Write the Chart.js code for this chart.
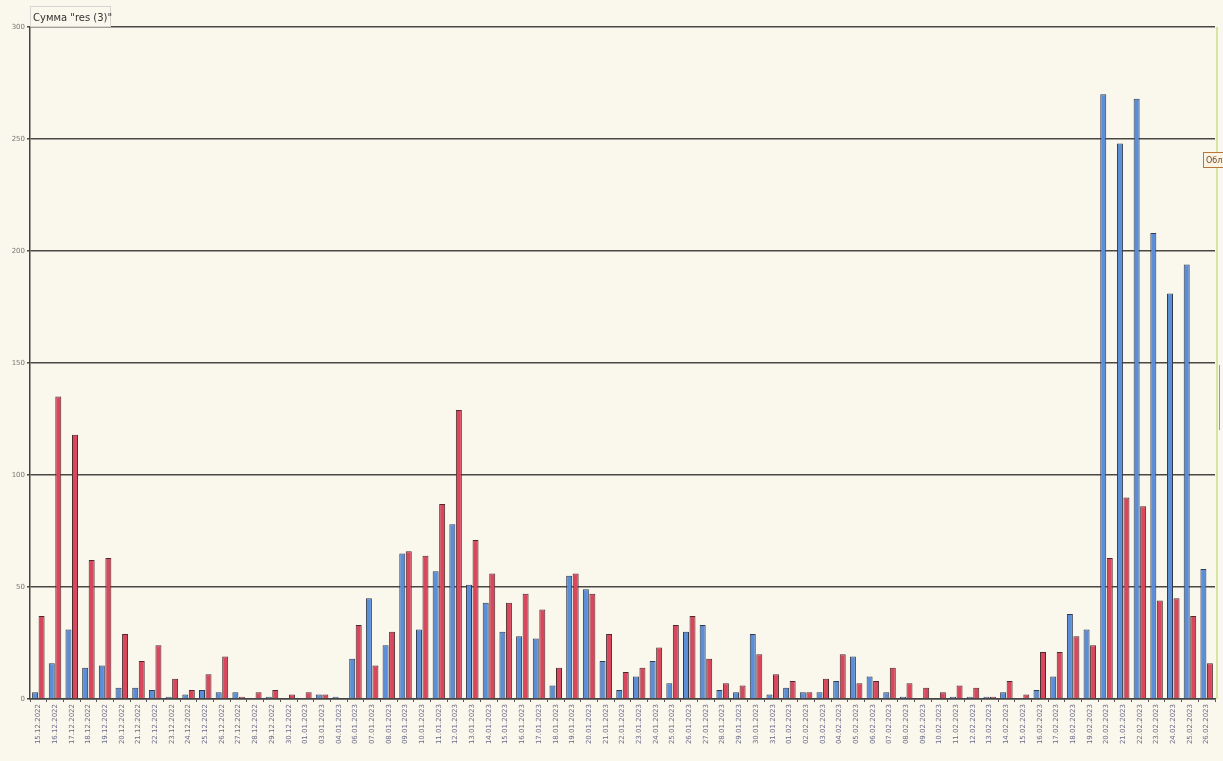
<!DOCTYPE html>
<html lang="ru">
<head>
    <meta charset="UTF-8">
    <title>Сумма "res (3)"</title>
    <script src="https://cdn.jsdelivr.net/npm/chart.js"></script>
    <style>
        html, body {
            margin: 0;
            padding: 0;
            background: #faf7ec;
        }
        #wrap {
            position: relative;
            width: 1223px;
            height: 761px;
        }
    </style>
</head>
<body>
    <div id="wrap"><canvas id="resChart" width="1223" height="761"></canvas></div>

    <script>
        const dates = [
            "15.12.2022", "16.12.2022", "17.12.2022", "18.12.2022", "19.12.2022", "20.12.2022",
            "21.12.2022", "22.12.2022", "23.12.2022", "24.12.2022", "25.12.2022", "26.12.2022",
            "27.12.2022", "28.12.2022", "29.12.2022", "30.12.2022", "01.01.2023", "03.01.2023",
            "04.01.2023", "06.01.2023", "07.01.2023", "08.01.2023", "09.01.2023", "10.01.2023",
            "11.01.2023", "12.01.2023", "13.01.2023", "14.01.2023", "15.01.2023", "16.01.2023",
            "17.01.2023", "18.01.2023", "19.01.2023", "20.01.2023", "21.01.2023", "22.01.2023",
            "23.01.2023", "24.01.2023", "25.01.2023", "26.01.2023", "27.01.2023", "28.01.2023",
            "29.01.2023", "30.01.2023", "31.01.2023", "01.02.2023", "02.02.2023", "03.02.2023",
            "04.02.2023", "05.02.2023", "06.02.2023", "07.02.2023", "08.02.2023", "09.02.2023",
            "10.02.2023", "11.02.2023", "12.02.2023", "13.02.2023", "14.02.2023", "15.02.2023",
            "16.02.2023", "17.02.2023", "18.02.2023", "19.02.2023", "20.02.2023", "21.02.2023",
            "22.02.2023", "23.02.2023", "24.02.2023", "25.02.2023", "26.02.2023"
        ];

        const blueValues = [
            3, 16, 31, 14, 15, 5, 5, 4, 1, 2, 4, 3,
            3, 0, 1, 0, 0, 2, 1, 18, 45, 24, 65, 31,
            57, 78, 51, 43, 30, 28, 27, 6, 55, 49, 17, 4,
            10, 17, 7, 30, 33, 4, 3, 29, 2, 5, 3, 3,
            8, 19, 10, 3, 1, 0, 0, 1, 1, 1, 3, 0,
            4, 10, 38, 31, 270, 248, 268, 208, 181, 194, 58
        ];

        const redValues = [
            37, 135, 118, 62, 63, 29, 17, 24, 9, 4, 11, 19,
            1, 3, 4, 2, 3, 2, 0, 33, 15, 30, 66, 64,
            87, 129, 71, 56, 43, 47, 40, 14, 56, 47, 29, 12,
            14, 23, 33, 37, 18, 7, 6, 20, 11, 8, 3, 9,
            20, 7, 8, 14, 7, 5, 3, 6, 5, 1, 8, 2,
            21, 21, 28, 24, 63, 90, 86, 44, 45, 37, 16
        ];

        const yTicks = [0, 50, 100, 150, 200, 250, 300];

        // рамки, заголовок и ярлык справа
        const decor = {
            id: "decor",
            beforeDraw(chart) {
                const c = chart.ctx;
                c.save();
                c.fillStyle = "#faf7ec";
                c.fillRect(0, 0, chart.width, chart.height);
                c.restore();
            },
            afterDraw(chart) {
                const c = chart.ctx;
                const a = chart.chartArea;
                c.save();
                // зелёная граница справа
                c.strokeStyle = "#c8e08a";
                c.lineWidth = 1.5;
                c.beginPath();
                c.moveTo(a.right + 2, a.top);
                c.lineTo(a.right + 2, a.bottom);
                c.stroke();
                // заголовок
                c.strokeStyle = "#d8d6d0";
                c.lineWidth = 1;
                c.strokeRect(30.5, 6.5, 80, 20);
                c.fillStyle = "#333";
                c.font = "10px 'DejaVu Sans', sans-serif";
                c.textBaseline = "alphabetic";
                c.fillText("Сумма \"res (3)\"", 33, 21);
                // ярлык "Обл"
                c.fillStyle = "#fdf3e2";
                c.fillRect(1203, 152, 20, 16);
                c.strokeStyle = "#b8763a";
                c.strokeRect(1203.5, 152.5, 22, 15);
                c.fillStyle = "#6b4a2a";
                c.font = "8px 'DejaVu Sans', sans-serif";
                c.fillText("Обл", 1206, 163);
                // серый элемент справа
                c.strokeStyle = "#9a9a9a";
                c.beginPath();
                c.moveTo(1219.5, 365);
                c.lineTo(1219.5, 430);
                c.stroke();
                c.restore();
            }
        };

        new Chart(document.getElementById("resChart"), {
            type: "bar",
            data: {
                labels: dates,
                datasets: [{
                    label: "blue",
                    data: blueValues,
                    backgroundColor: "#5b8ed6",
                    borderColor: "#2f3a4e",
                    borderWidth: 1,
                    categoryPercentage: 0.78,
                    barPercentage: 0.92
                }, {
                    label: "red",
                    data: redValues,
                    backgroundColor: "#d8475c",
                    borderColor: "#4e2a30",
                    borderWidth: 1,
                    categoryPercentage: 0.78,
                    barPercentage: 0.92
                }]
            },
            options: {
                responsive: false,
                animation: false,
                layout: { padding: { top: 27, right: 8, left: 0, bottom: 0 } },
                plugins: {
                    legend: { display: false },
                    tooltip: { enabled: false }
                },
                scales: {
                    x: {
                        offset: true,
                        grid: {
                            offset: true,
                            drawOnChartArea: false,
                            drawTicks: true,
                            tickLength: 3,
                            color: "#555"
                        },
                        border: { color: "#444", width: 1.5 },
                        ticks: {
                            autoSkip: false,
                            minRotation: 90,
                            maxRotation: 90,
                            padding: 2,
                            color: "#6a6a88",
                            font: { size: 7, family: "'DejaVu Sans', sans-serif" }
                        },
                        afterFit(scale) { scale.height = 62; }
                    },
                    y: {
                        min: 0,
                        max: 300,
                        afterBuildTicks(scale) {
                            scale.ticks = yTicks.map(v => ({ value: v }));
                        },
                        grid: {
                            color: "#4a4846",
                            lineWidth: 1.5,
                            drawTicks: true,
                            tickLength: 3
                        },
                        border: { color: "#444", width: 1.5 },
                        ticks: {
                            padding: 2,
                            color: "#777",
                            font: { size: 7, family: "'DejaVu Sans', sans-serif" }
                        },
                        afterFit(scale) { scale.width = 30; }
                    }
                }
            },
            plugins: [decor]
        });
    </script>
</body>
</html>
